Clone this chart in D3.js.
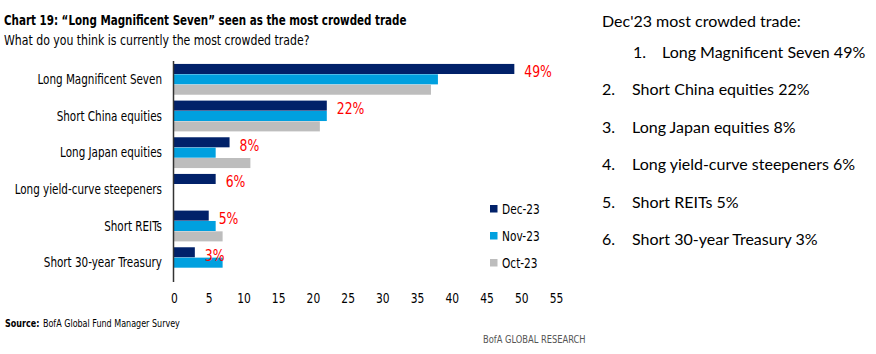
<!DOCTYPE html>
<html>
<head>
<meta charset="utf-8">
<script src="https://cdn.jsdelivr.net/npm/d3@7"></script>
<style>
  body { margin: 0; background: #fff; }
  svg { display: block; }
  .narrow { font-family: "Liberation Sans Narrow", "DejaVu Sans Condensed", sans-serif; }
  .panel { font-family: Lato, "Open Sans", sans-serif; }
</style>
</head>
<body>
<svg id="chart" width="876" height="354"></svg>
<script>
var categories = ["Long Magnificent Seven", "Short China equities", "Long Japan equities",
  "Long yield-curve steepeners", "Short REITs", "Short 30-year Treasury"];
var series = ["Dec-23", "Nov-23", "Oct-23"];
var dec23 = [49, 22, 8, 6, 5, 3];
var nov23 = [38, 22, 6, 0, 6, 7];
var oct23 = [37, 21, 11, 0, 7, 0];
var xTicks = [0, 5, 10, 15, 20, 25, 30, 35, 40, 45, 50, 55];
var rankTitle = "Dec'23 most crowded trade:";

var colors = { "Dec-23": "#012169", "Nov-23": "#00A0DF", "Oct-23": "#BDBDBD" };
var values = { "Dec-23": dec23, "Nov-23": nov23, "Oct-23": oct23 };

var svg = d3.select("#chart");

// no narrow face installed: compress the condensed one horizontally
var squeeze = function(sel, k) {
  sel.each(function() {
    var w = this.getComputedTextLength();
    d3.select(this)
      .attr("textLength", w * k)
      .attr("lengthAdjust", "spacingAndGlyphs");
  });
  return sel;
};

var x = d3.scaleLinear().domain([0, 55]).range([174, 556]),
  y = d3.scaleBand().domain(categories).range([61, 281]).paddingInner(0.16).paddingOuter(0.08),
  ySub = d3.scaleBand().domain(series).range([0, y.bandwidth()]).paddingInner(0.03);

// titles
svg.append("text")
  .attr("class", "narrow")
  .attr("x", 4).attr("y", 25)
  .attr("font-size", 14).attr("font-weight", "bold").attr("fill", "#000")
  .text("Chart 19: \u201cLong Magnificent Seven\u201d seen as the most crowded trade")
  .call(squeeze, 0.82);
svg.append("text")
  .attr("class", "narrow")
  .attr("x", 4).attr("y", 45)
  .attr("font-size", 13.5).attr("fill", "#000")
  .text("What do you think is currently the most crowded trade?")
  .call(squeeze, 0.9);

// bars
var groups = svg.append("g").selectAll("g")
  .data(categories)
  .enter().append("g")
    .attr("transform", function(d) { return "translate(0," + y(d) + ")"; });

groups.selectAll("rect")
  .data(function(d, i) {
    return series.map(function(s) { return { s: s, v: values[s][i] }; });
  })
  .enter().append("rect")
    .filter(function(d) { return d.v > 0; })
    .attr("x", x(0))
    .attr("y", function(d) { return ySub(d.s); })
    .attr("width", function(d) { return x(d.v) - x(0); })
    .attr("height", ySub.bandwidth())
    .attr("fill", function(d) { return colors[d.s]; });

// red value labels on Dec bars
groups.append("text")
  .attr("class", "narrow")
  .attr("x", function(d, i) { return x(dec23[i]) + 10; })
  .attr("y", ySub("Dec-23") + ySub.bandwidth() / 2 + 3)
  .attr("dy", "0.35em")
  .attr("font-size", 15).attr("fill", "#FF0000")
  .text(function(d, i) { return dec23[i] + "%"; })
  .call(squeeze, 0.92);

// category labels
groups.append("text")
  .attr("class", "narrow")
  .attr("x", 162)
  .attr("y", y.bandwidth() / 2)
  .attr("dy", "0.35em")
  .attr("text-anchor", "end")
  .attr("font-size", 13.5).attr("fill", "#000")
  .text(function(d) { return d; })
  .call(squeeze, 0.855);

// y axis line
svg.append("line")
  .attr("x1", 173.5).attr("x2", 173.5)
  .attr("y1", y.range()[0]).attr("y2", y.range()[1] + 1)
  .attr("stroke", "#333").attr("stroke-width", 1.5);

// x axis tick labels
var xAxis = d3.axisBottom(x).tickValues(xTicks).tickSize(0).tickPadding(0);
var xg = svg.append("g")
  .attr("class", "narrow")
  .attr("transform", "translate(0,293)")
  .call(xAxis);
xg.select(".domain").remove();
xg.selectAll("text")
  .attr("font-family", null).attr("font-size", 14).attr("fill", "#000")
  .call(squeeze, 0.85);

// legend
var legend = svg.append("g").selectAll("g")
  .data(series)
  .enter().append("g")
    .attr("transform", function(d, i) { return "translate(490," + (205 + i * 27) + ")"; });
legend.append("rect")
  .attr("width", 7.5).attr("height", 7.5)
  .attr("fill", function(d) { return colors[d]; });
legend.append("text")
  .attr("class", "narrow")
  .attr("x", 12).attr("y", 4).attr("dy", "0.35em")
  .attr("font-size", 14).attr("fill", "#000")
  .text(function(d) { return d; })
  .call(squeeze, 0.84);

// source + branding
var src = svg.append("text")
  .attr("class", "narrow")
  .attr("x", 5).attr("y", 327)
  .attr("font-size", 10).attr("fill", "#000");
src.append("tspan").attr("font-weight", "bold").text("Source:");
src.append("tspan").attr("dx", 4).text("BofA Global Fund Manager Survey");
src.call(squeeze, 0.91);

svg.append("text")
  .attr("class", "narrow")
  .attr("x", 483).attr("y", 343)
  .attr("font-size", 10.5).attr("fill", "#555")
  .text("BofA GLOBAL RESEARCH")
  .call(squeeze, 0.88);

// right-hand ranking panel
var panel = svg.append("g").attr("class", "panel");
panel.append("text")
  .attr("x", 602).attr("y", 27)
  .attr("font-size", 16).attr("fill", "#000")
  .text(rankTitle);

var rank = panel.selectAll("g.rank")
  .data(categories)
  .enter().append("g")
    .attr("class", "rank")
    .attr("transform", function(d, i) { return "translate(0," + (58 + i * 37.4) + ")"; });
rank.append("text")
  .attr("x", function(d, i) { return i === 0 ? 633 : 602; })
  .attr("font-size", 16).attr("fill", "#000")
  .text(function(d, i) { return (i + 1) + "."; });
rank.append("text")
  .attr("x", function(d, i) { return i === 0 ? 662 : 632; })
  .attr("font-size", 16).attr("fill", "#000")
  .text(function(d, i) { return d + " " + dec23[i] + "%"; });
</script>
</body>
</html>
